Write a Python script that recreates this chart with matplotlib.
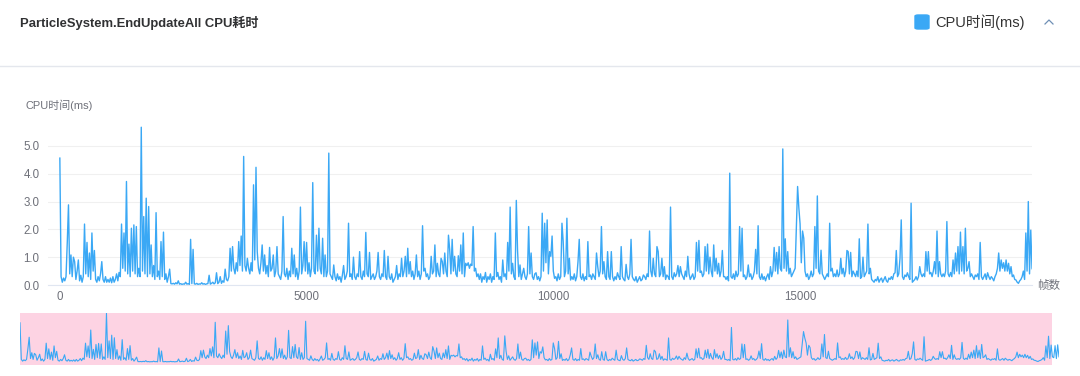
import numpy as np
import matplotlib.pyplot as plt
from matplotlib.patches import FancyBboxPatch
from matplotlib.lines import Line2D

plt.rcParams['font.family'] = ['Liberation Sans', 'Noto Sans CJK SC']

# data: CPU time per frame, one sample every 25 frames
STEP = 25
cpu_ms = [
    4.56, 0.3, 0.1, 0.25, 0.15, 0.3, 1.5, 2.88, 0.4, 1.08, 0.3, 1.0, 0.84, 0.2, 0.5, 0.9, 0.15, 0.35, 0.1, 0.3,
    2.19, 0.4, 1.53, 0.3, 1.15, 0.2, 1.87, 0.5, 1.24, 0.2, 0.1, 0.3, 0.15, 0.4, 0.84, 0.2, 0.1, 0.3, 0.1, 0.2,
    0.1, 0.25, 0.08, 0.3, 0.1, 0.2, 0.4, 0.15, 0.45, 0.3, 2.19, 0.6, 1.87, 0.5, 3.72, 0.4, 1.47, 0.3, 2.04, 0.5,
    2.16, 0.4, 2.1, 0.3, 0.6, 0.3, 5.67, 0.5, 2.46, 0.4, 3.12, 0.3, 2.82, 0.4, 1.44, 0.3, 0.7, 0.2, 2.6, 0.3,
    0.5, 0.2, 1.56, 0.3, 1.9, 0.2, 0.4, 0.1, 0.3, 0.57, 0.05, 0.04, 0.06, 0.03, 0.08, 0.04, 0.15, 0.03, 0.05, 0.02,
    0.04, 0.03, 0.1, 0.03, 0.05, 0.02, 1.64, 0.05, 1.28, 0.04, 0.03, 0.06, 0.02, 0.04, 0.03, 0.08, 0.03, 0.05, 0.02, 0.04,
    0.05, 0.35, 0.03, 0.06, 0.1, 0.04, 0.08, 0.44, 0.05, 0.1, 0.3, 0.06, 0.15, 0.1, 0.57, 0.2, 0.15, 0.3, 1.32, 0.5,
    1.38, 0.6, 0.4, 0.8, 0.5, 1.56, 0.7, 1.76, 0.5, 4.62, 0.7, 0.5, 0.96, 0.6, 0.4, 0.8, 0.5, 3.6, 0.9, 4.23,
    1.2, 0.6, 0.4, 0.8, 1.44, 0.5, 1.08, 0.4, 0.7, 0.3, 1.35, 0.5, 0.6, 1.08, 0.3, 0.5, 1.38, 0.4, 0.3, 0.2,
    0.5, 2.46, 0.4, 0.3, 0.6, 0.2, 0.5, 0.3, 1.32, 0.4, 1.08, 0.3, 0.6, 0.2, 0.5, 2.8, 0.4, 0.7, 1.56, 0.5,
    1.53, 0.4, 0.8, 0.3, 0.6, 3.68, 0.5, 0.4, 1.79, 0.5, 2.04, 0.6, 0.4, 1.68, 0.3, 1.08, 0.3, 0.5, 4.74, 0.4,
    0.3, 0.2, 0.72, 0.3, 0.15, 0.4, 0.2, 0.3, 0.1, 0.35, 0.7, 0.2, 0.3, 0.5, 2.22, 0.3, 0.4, 0.2, 1.0, 0.3,
    0.2, 0.4, 0.3, 1.2, 0.3, 0.2, 0.5, 0.3, 1.89, 0.4, 0.3, 1.17, 0.2, 0.3, 0.4, 0.2, 0.3, 0.5, 1.17, 0.3,
    0.2, 0.4, 0.3, 1.24, 0.3, 0.2, 1.03, 0.3, 0.2, 0.4, 0.1, 0.2, 0.3, 0.7, 0.2, 0.4, 0.3, 0.96, 0.3, 0.5,
    1.03, 0.3, 1.32, 0.4, 0.84, 0.3, 0.5, 0.2, 0.4, 1.08, 0.3, 0.5, 0.2, 0.4, 2.13, 0.5, 0.6, 0.3, 0.4, 0.2,
    0.3, 1.03, 0.4, 0.5, 1.44, 0.3, 0.78, 0.4, 0.3, 0.96, 0.84, 0.4, 1.15, 0.5, 0.3, 1.79, 1.28, 0.4, 1.64, 0.5,
    1.03, 0.4, 0.3, 1.05, 0.5, 1.44, 0.4, 1.87, 0.3, 0.78, 0.7, 0.8, 0.6, 0.75, 0.7, 2.1, 0.5, 0.6, 0.3, 0.4,
    0.2, 0.4, 0.1, 0.3, 0.2, 0.45, 0.1, 0.3, 0.2, 0.4, 0.1, 0.3, 0.2, 1.87, 0.3, 0.45, 0.2, 0.3, 0.1, 0.9,
    0.3, 0.4, 0.2, 1.53, 0.5, 2.8, 0.4, 0.78, 0.3, 0.2, 3.04, 1.24, 0.3, 0.72, 0.2, 0.4, 0.6, 0.3, 0.2, 0.4,
    2.1, 0.4, 1.15, 0.3, 0.2, 0.4, 0.44, 0.2, 0.3, 0.15, 0.3, 2.58, 0.5, 2.22, 0.8, 2.34, 0.4, 1.2, 1.03, 1.76,
    0.5, 0.24, 0.3, 0.15, 0.4, 0.2, 0.3, 2.22, 1.56, 0.3, 0.5, 2.4, 0.4, 0.96, 0.18, 0.3, 0.2, 0.4, 0.15, 0.3,
    0.84, 1.64, 0.3, 0.2, 0.4, 0.15, 0.3, 0.2, 1.56, 0.3, 0.36, 0.2, 0.4, 0.3, 0.2, 1.15, 0.66, 0.3, 0.5, 2.1,
    0.4, 0.84, 0.3, 0.2, 1.2, 0.3, 0.2, 1.2, 0.3, 0.15, 0.3, 0.2, 0.44, 0.3, 0.2, 1.38, 0.3, 0.2, 0.15, 0.74,
    0.3, 0.2, 0.4, 1.64, 0.3, 0.2, 0.15, 0.3, 0.1, 0.2, 0.3, 0.15, 0.2, 0.36, 0.3, 0.2, 0.4, 0.3, 1.94, 0.5,
    0.3, 0.96, 0.4, 0.3, 1.38, 1.2, 0.3, 0.4, 0.96, 0.3, 0.66, 0.2, 0.36, 0.3, 0.2, 2.8, 0.3, 0.2, 0.44, 0.3,
    0.4, 0.7, 0.3, 0.66, 0.4, 0.3, 0.2, 0.5, 0.3, 1.03, 0.4, 0.2, 0.3, 0.4, 0.2, 0.3, 1.53, 0.5, 1.6, 0.45,
    0.5, 0.3, 0.4, 1.38, 0.5, 1.47, 0.4, 1.0, 0.5, 0.3, 1.44, 0.5, 0.96, 0.4, 0.78, 0.3, 0.5, 1.24, 0.3, 0.3,
    0.2, 0.3, 0.15, 4.02, 0.3, 0.24, 0.4, 0.2, 0.5, 0.3, 0.4, 2.1, 0.5, 2.04, 0.3, 0.36, 0.2, 0.3, 0.72, 0.3,
    0.4, 0.2, 0.3, 0.5, 1.28, 0.4, 2.13, 0.3, 0.2, 0.4, 0.2, 0.3, 0.15, 0.3, 0.4, 0.2, 0.66, 0.3, 0.5, 1.35,
    0.5, 1.17, 0.4, 1.38, 0.6, 0.5, 4.89, 0.6, 1.66, 0.5, 1.2, 0.4, 0.6, 0.3, 0.4, 0.5, 0.6, 2.1, 3.54, 2.78,
    2.2, 0.8, 1.94, 1.68, 0.5, 0.3, 0.4, 0.2, 0.3, 0.5, 0.3, 0.4, 2.1, 0.6, 3.2, 0.5, 0.4, 1.25, 0.4, 0.3,
    0.2, 0.3, 0.4, 0.3, 2.22, 0.5, 0.6, 0.3, 0.4, 0.3, 0.54, 0.3, 0.4, 0.96, 0.4, 0.6, 0.3, 0.5, 1.24, 1.2,
    0.4, 1.17, 0.3, 0.5, 0.4, 0.3, 0.5, 0.3, 1.66, 0.24, 0.3, 1.0, 0.3, 0.4, 0.5, 2.19, 0.4, 0.6, 0.2, 0.15,
    0.1, 0.2, 0.15, 0.3, 0.1, 0.2, 0.25, 0.1, 0.2, 0.3, 0.15, 0.1, 0.25, 0.2, 0.3, 0.2, 0.4, 0.44, 1.24, 0.3,
    0.4, 0.96, 2.34, 0.3, 0.2, 0.36, 0.3, 0.44, 0.3, 0.2, 2.94, 0.1, 0.15, 0.2, 0.3, 0.18, 0.3, 0.66, 0.4, 0.3,
    0.4, 0.3, 1.2, 0.5, 1.2, 0.4, 0.45, 0.3, 0.5, 0.84, 0.4, 1.94, 0.3, 0.84, 0.4, 0.3, 0.4, 0.3, 0.5, 2.28,
    0.4, 0.3, 0.45, 0.3, 0.9, 0.4, 1.15, 0.5, 1.38, 0.4, 1.9, 0.5, 1.38, 0.4, 2.04, 0.5, 0.6, 0.84, 0.3, 0.4,
    0.3, 0.2, 0.36, 0.3, 0.4, 0.2, 1.53, 0.3, 0.2, 0.3, 0.4, 0.2, 0.44, 0.3, 0.2, 0.3, 0.24, 0.15, 0.3, 0.4,
    0.6, 1.15, 0.5, 0.9, 0.6, 0.8, 0.5, 0.9, 0.5, 0.78, 0.4, 0.66, 0.3, 0.36, 0.2, 0.18, 0.1, 0.06, 0.15, 0.2,
    0.3, 0.5, 0.2, 1.87, 0.5, 3.0, 0.4, 1.97, 0.6, 0.5, 1.9, 0.4, 2.0, 0.6,
]
frames = np.arange(len(cpu_ms)) * STEP
window_end = 19700  # last frame inside the zoom window

title = 'ParticleSystem.EndUpdateAll CPU耗时'
series_name = 'CPU时间(ms)'
x_name = '帧数'
y_ticks = [0, 1, 2, 3, 4, 5]
x_ticks = [0, 5000, 10000, 15000]

BLUE = '#3aa8f5'
LABEL = '#6e7079'
W, H = 1080, 376

fig = plt.figure(figsize=(W / 100, H / 100), dpi=100)


def box(x0, y0, x1, y1):
    # pixel box measured from the top-left -> figure rect
    return [x0 / W, 1 - y1 / H, (x1 - x0) / W, (y1 - y0) / H]


def fx(x):
    return x / W


def fy(y):
    return 1 - y / H


# header
fig.text(fx(20), fy(23), title, fontsize=9.4, fontweight='bold', color='#303133', va='center')
fig.add_artist(FancyBboxPatch((fx(915), fy(29)), 14 / W, 14 / H, boxstyle='round,pad=0,rounding_size=0.003',
                              transform=fig.transFigure, color=BLUE))
fig.text(fx(935), fy(22), series_name, fontsize=10.5, color='#333333', va='center')
fig.add_artist(Line2D([fx(1045), fx(1049), fx(1053)], [fy(24), fy(20), fy(24)],
                      transform=fig.transFigure, color='#6f8fb5', lw=0.9))
fig.add_artist(Line2D([0, 1], [fy(65.5), fy(65.5)], transform=fig.transFigure, color='#e4e7ed', lw=1))

# main chart
ax = fig.add_axes(box(48, 125, 1032, 285))
ax.plot(frames, cpu_ms, color=BLUE, lw=1.0)
ax.set_xlim(-240, window_end)
ax.set_ylim(0, 5.75)
ax.set_yticks(y_ticks)
ax.set_yticklabels(['%.1f' % v for v in y_ticks])
ax.set_xticks(x_ticks)
ax.set_xticklabels([str(v) for v in x_ticks])
ax.tick_params(length=0, labelsize=8.3, labelcolor=LABEL)
ax.tick_params(axis='y', pad=6)
ax.tick_params(axis='x', pad=4)
ax.grid(axis='y', color='#f0f0f0', lw=0.8)
ax.set_axisbelow(True)
for s in ['top', 'right', 'left']:
    ax.spines[s].set_visible(False)
ax.spines['bottom'].set_color('#e0e6f1')
fig.text(fx(25), fy(105), series_name, fontsize=7.9, color=LABEL, va='center')
fig.text(fx(1037), fy(286), x_name, fontsize=8.3, color=LABEL, va='center')

# slider / overview
sl = fig.add_axes(box(20, 313, 1059, 365))
sl.axvspan(0, window_end, color='#fdd3e3', lw=0)
sl.plot(frames, cpu_ms, color=BLUE, lw=0.8)
sl.set_xlim(0, frames[-1])
sl.set_ylim(-0.35, 5.7)
sl.axis('off')

fig.savefig('out.png', dpi=100)
